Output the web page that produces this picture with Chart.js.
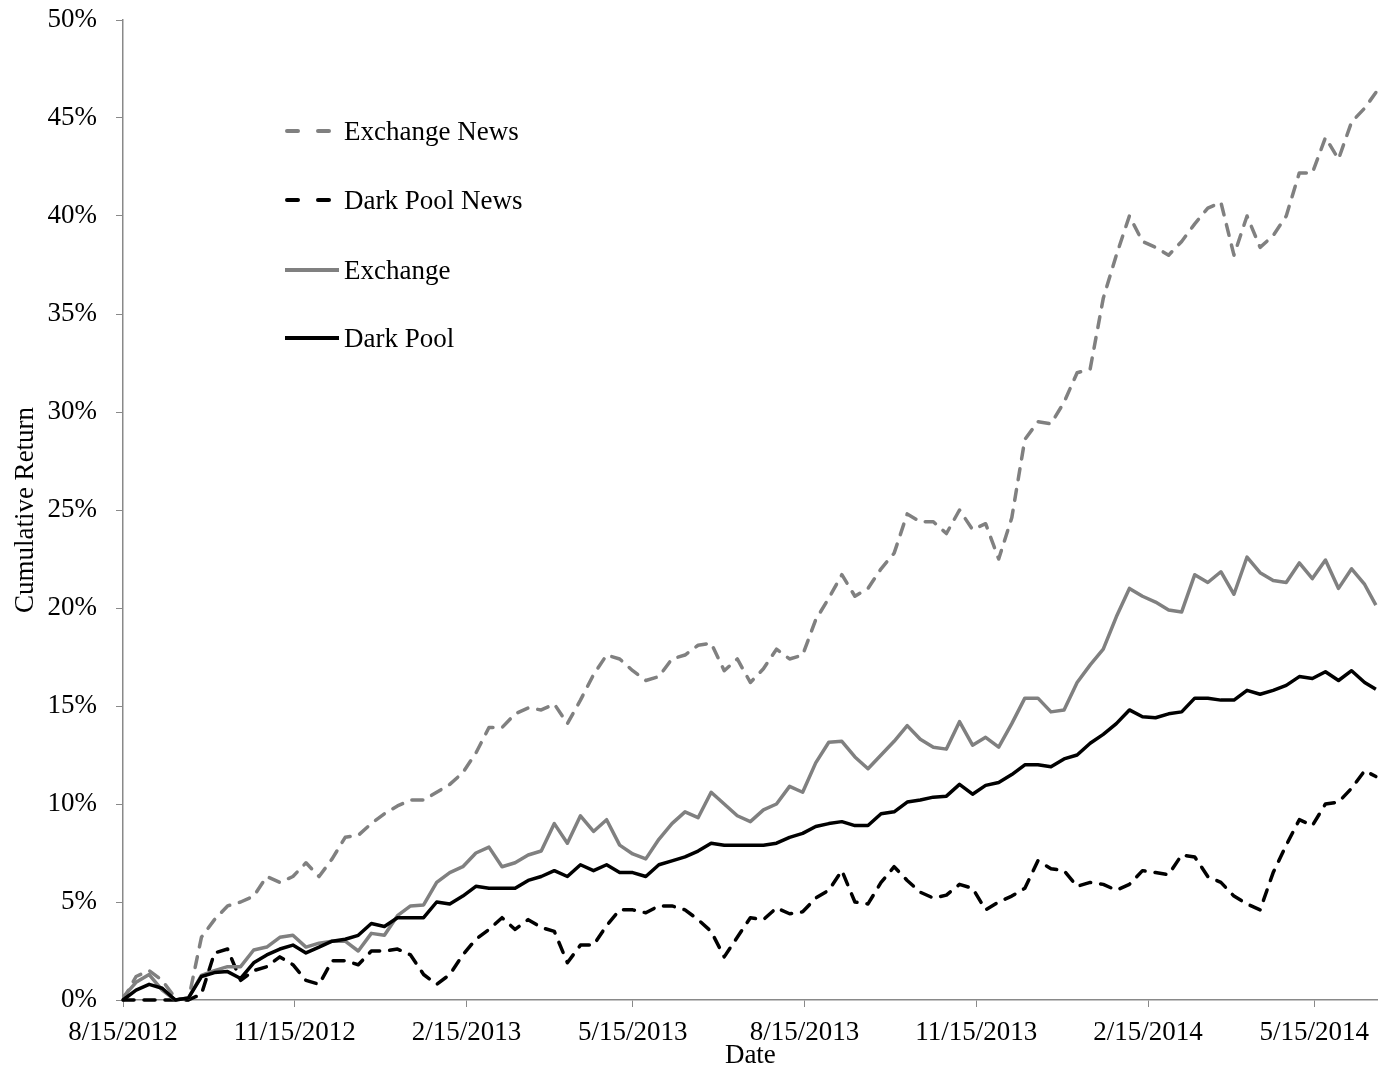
<!DOCTYPE html>
<html lang="en">
<head>
    <meta charset="UTF-8">
    <title>Cumulative Return</title>
    <script src="https://cdn.jsdelivr.net/npm/chart.js"></script>
    <style>
        body { margin: 0; background: #fff; }
        #wrap { position: relative; width: 1379px; height: 1069px; }
        #legend { position: absolute; left: 285px; top: 0; font-family: "Liberation Serif", "Times New Roman", serif; font-size: 27px; color: #000; }
        .legendRow { position: absolute; left: 0; height: 32px; display: flex; align-items: center; white-space: nowrap; }
        .legendRow svg { display: block; margin-right: 3px; }
    </style>
</head>
<body>
    <div id="wrap">
        <canvas id="returnChart"></canvas>
        <div id="legend"></div>
    </div>

    <script>
        // days since 8/15/2012, sampled about weekly
        const tradeDays = [0, 7, 14, 21, 28, 35, 42, 49, 56, 63, 70, 77, 84, 91, 98, 105, 112, 119, 126, 133,
            140, 147, 154, 161, 168, 175, 182, 189, 196, 203, 210, 217, 224, 231, 238, 245, 252, 259, 266, 273,
            280, 287, 294, 301, 308, 315, 322, 329, 336, 343, 350, 357, 364, 371, 378, 385, 392, 399, 406, 413,
            420, 427, 434, 441, 448, 455, 462, 469, 476, 483, 490, 497, 504, 511, 518, 525, 532, 539, 546, 553,
            560, 567, 574, 581, 588, 595, 602, 609, 616, 623, 630, 637, 644, 651, 658, 665, 671];

        const exchangeNews = [0, 1.2, 1.5, 1.0, 0.1, 0.0, 3.2, 4.1, 4.8, 5.0,
            5.3, 6.3, 6.0, 6.3, 7.0, 6.3, 7.2, 8.3, 8.4, 9.0,
            9.5, 9.9, 10.2, 10.2, 10.6, 11.0, 11.6, 12.6, 13.9, 13.9,
            14.6, 14.9, 14.8, 15.1, 14.1, 15.3, 16.6, 17.6, 17.4, 16.8,
            16.3, 16.5, 17.4, 17.6, 18.1, 18.2, 16.8, 17.4, 16.2, 16.9,
            17.9, 17.4, 17.6, 19.4, 20.5, 21.7, 20.6, 21.0, 22.0, 22.8,
            24.8, 24.4, 24.4, 23.8, 25.0, 24.0, 24.3, 22.5, 24.6, 28.6,
            29.5, 29.4, 30.5, 32.0, 32.2, 35.8, 38.0, 40.0, 38.7, 38.4,
            38.0, 38.7, 39.6, 40.4, 40.7, 38.0, 40.0, 38.4, 39.0, 40.0,
            42.2, 42.2, 44.0, 42.9, 44.8, 45.5, 46.3];

        const darkPoolNews = [0, 0, 0, 0, 0, 0, 0.3, 2.4, 2.6, 1.0,
            1.5, 1.7, 2.2, 1.8, 1.0, 0.8, 2.0, 2.0, 1.8, 2.5,
            2.5, 2.6, 2.3, 1.3, 0.8, 1.3, 2.3, 3.1, 3.6, 4.2,
            3.6, 4.1, 3.7, 3.5, 1.9, 2.8, 2.8, 3.8, 4.6, 4.6,
            4.45, 4.8, 4.8, 4.6, 4.1, 3.5, 2.2, 3.2, 4.2, 4.1,
            4.7, 4.4, 4.5, 5.2, 5.6, 6.6, 5.0, 4.9, 6.0, 6.8,
            6.1, 5.5, 5.2, 5.35, 5.9, 5.7, 4.6, 5.0, 5.3, 5.7,
            7.1, 6.7, 6.6, 5.8, 6.0, 5.9, 5.6, 5.9, 6.6, 6.5,
            6.4, 7.4, 7.3, 6.3, 6.0, 5.3, 4.9, 4.6, 6.5, 7.9,
            9.2, 8.9, 10.0, 10.1, 10.8, 11.7, 11.4];

        const exchange = [0.15, 0.9, 1.3, 0.5, 0.0, 0.1, 1.25, 1.5, 1.7, 1.7,
            2.55, 2.7, 3.2, 3.3, 2.7, 2.9, 3.0, 3.0, 2.5, 3.4,
            3.3, 4.3, 4.8, 4.85, 6.0, 6.5, 6.8, 7.5, 7.8, 6.8,
            7.0, 7.4, 7.6, 9.0, 8.0, 9.4, 8.6, 9.2, 7.9, 7.45,
            7.2, 8.2, 9.0, 9.6, 9.3, 10.6, 10.0, 9.4, 9.1, 9.7,
            10.0, 10.9, 10.6, 12.1, 13.15, 13.2, 12.4, 11.8, 12.5, 13.2,
            14.0, 13.3, 12.9, 12.8, 14.2, 13.0, 13.4, 12.9, 14.1, 15.4,
            15.4, 14.7, 14.8, 16.2, 17.1, 17.9, 19.55, 21.0, 20.6, 20.3,
            19.9, 19.8, 21.7, 21.3, 21.85, 20.7, 22.6, 21.8, 21.4, 21.3,
            22.3, 21.5, 22.45, 21.0, 22.0, 21.2, 20.15];

        const darkPool = [0, 0.5, 0.8, 0.6, 0.0, 0.1, 1.2, 1.4, 1.45, 1.1,
            1.9, 2.3, 2.6, 2.8, 2.4, 2.7, 3.0, 3.1, 3.3, 3.9,
            3.75, 4.2, 4.2, 4.2, 5.0, 4.9, 5.3, 5.8, 5.7, 5.7,
            5.7, 6.1, 6.3, 6.6, 6.3, 6.9, 6.6, 6.9, 6.5, 6.5,
            6.3, 6.9, 7.1, 7.3, 7.6, 8.0, 7.9, 7.9, 7.9, 7.9,
            8.0, 8.3, 8.5, 8.85, 9.0, 9.1, 8.9, 8.9, 9.5, 9.6,
            10.1, 10.2, 10.35, 10.4, 11.0, 10.5, 10.95, 11.1, 11.5, 12.0,
            12.0, 11.9, 12.3, 12.5, 13.1, 13.55, 14.1, 14.8, 14.45, 14.4,
            14.6, 14.7, 15.4, 15.4, 15.3, 15.3, 15.8, 15.6, 15.8, 16.05,
            16.5, 16.4, 16.75, 16.3, 16.8, 16.2, 15.85];

        const tickDays = [0, 92, 184, 273, 365, 457, 549, 638];
        const tickLabels = ['8/15/2012', '11/15/2012', '2/15/2013', '5/15/2013', '8/15/2013', '11/15/2013', '2/15/2014', '5/15/2014'];

        const seriesNames = ['Exchange News', 'Dark Pool News', 'Exchange', 'Dark Pool'];
        const seriesColors = ['#808080', '#000000', '#808080', '#000000'];
        const seriesDashed = [true, true, false, false];

        const axisColor = '#898989';
        const serif = '"Liberation Serif", "Times New Roman", serif';

        function toPoints(values) {
            return values.map((v, i) => ({ x: tradeDays[i], y: v }));
        }

        function makeDataset(idx, values) {
            return {
                label: seriesNames[idx],
                data: toPoints(values),
                borderColor: seriesColors[idx],
                borderWidth: 3.5,
                borderDash: seriesDashed[idx] ? [11, 10] : [],
                borderCapStyle: seriesDashed[idx] ? 'round' : 'butt',
                borderJoinStyle: 'round',
                pointRadius: 0,
                tension: 0,
                clip: false
            };
        }

        Chart.defaults.font.family = serif;
        Chart.defaults.color = '#000';

        const ctx = document.getElementById('returnChart').getContext('2d');
        new Chart(ctx, {
            type: 'line',
            data: {
                // first dataset is drawn on top
                datasets: [
                    makeDataset(3, darkPool),
                    makeDataset(2, exchange),
                    makeDataset(1, darkPoolNews),
                    makeDataset(0, exchangeNews)
                ]
            },
            options: {
                responsive: true,
                maintainAspectRatio: false,
                animation: false,
                layout: { padding: { top: 20, right: 0, bottom: 0, left: 0 } },
                plugins: {
                    legend: { display: false },
                    tooltip: { enabled: false }
                },
                scales: {
                    x: {
                        type: 'linear',
                        min: 0,
                        max: 672,
                        afterBuildTicks: function (scale) {
                            scale.ticks = tickDays.map(d => ({ value: d }));
                        },
                        afterFit: function (scale) {
                            scale.height = 69;
                        },
                        ticks: {
                            autoSkip: false,
                            maxRotation: 0,
                            padding: 10,
                            font: { size: 27 },
                            callback: function (value, index) {
                                return tickLabels[index];
                            }
                        },
                        grid: { drawOnChartArea: false, drawTicks: true, tickLength: 7, color: axisColor },
                        border: { color: axisColor, width: 1.5 },
                        title: {
                            display: true,
                            text: 'Date',
                            font: { size: 27, lineHeight: 1 },
                            padding: { top: 0, bottom: 0 }
                        }
                    },
                    y: {
                        min: 0,
                        max: 50,
                        afterFit: function (scale) {
                            scale.width = 123;
                            // keep the plot top at the fixed layout padding
                            scale.paddingTop = 0;
                            scale.paddingBottom = 0;
                        },
                        ticks: {
                            stepSize: 5,
                            padding: 19,
                            font: { size: 27 },
                            callback: function (value) {
                                return value + '%';
                            }
                        },
                        grid: { drawOnChartArea: false, drawTicks: true, tickLength: 7, color: axisColor },
                        border: { color: axisColor, width: 1.5 },
                        title: {
                            display: true,
                            text: 'Cumulative Return',
                            font: { size: 27, lineHeight: 1.2 },
                            padding: { top: 10, bottom: 0 }
                        }
                    }
                }
            }
        });

        // legend placed inside the plot, like the original
        const legendRowsY = [115, 184, 254, 322];
        const legendEl = document.getElementById('legend');
        seriesNames.forEach(function (name, i) {
            const row = document.createElement('div');
            row.className = 'legendRow';
            row.style.top = legendRowsY[i] + 'px';
            const dash = seriesDashed[i] ? ' stroke-dasharray="11 20" stroke-linecap="round"' : '';
            const x1 = seriesDashed[i] ? 2 : 0;
            const x2 = seriesDashed[i] ? 45 : 54;
            row.innerHTML = `<svg width="56" height="10"><line x1="${x1}" y1="5" x2="${x2}" y2="5" stroke="${seriesColors[i]}" stroke-width="4"${dash}/></svg><span>${name}</span>`;
            legendEl.appendChild(row);
        });
    </script>
</body>
</html>
